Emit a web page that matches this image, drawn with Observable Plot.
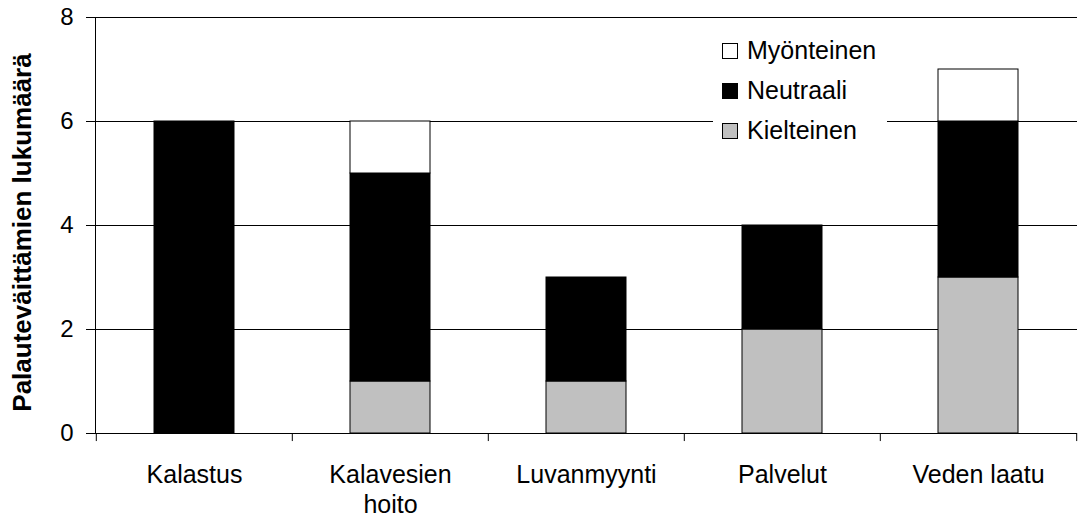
<!DOCTYPE html>
<html>
<head>
<meta charset="utf-8">
<script src="https://cdn.jsdelivr.net/npm/d3@7"></script>
<script src="https://cdn.jsdelivr.net/npm/@observablehq/plot@0.6"></script>
<style>
  body { margin: 0; background: #fff; font-family: "Liberation Sans", Arial, sans-serif; }
  #wrap { position: relative; width: 1079px; height: 515px; }
  #legend { position: absolute; left: 713px; top: 32px; width: 174px; height: 118px; background: #fff; font-size: 25px; color: #000; }
  .item { position: absolute; left: 9px; height: 24px; line-height: 24px; white-space: nowrap; }
  .sw { position: absolute; left: 0; top: 4px; width: 14px; height: 14px; border: 1px solid #000; box-sizing: content-box; }
  .lab { position: absolute; left: 25px; top: -1px; }
</style>
</head>
<body>
<div id="wrap"></div>
<script>
const categories = ["Kalastus", "Kalavesien hoito", "Luvanmyynti", "Palvelut", "Veden laatu"];
const tickLabels = ["Kalastus", "Kalavesien\nhoito", "Luvanmyynti", "Palvelut", "Veden laatu"];
const series = ["Kielteinen", "Neutraali", "Myönteinen"];
const kielteinen = [0, 1, 1, 2, 3];
const neutraali  = [6, 4, 2, 2, 3];
const myonteinen = [0, 1, 0, 0, 1];
const colors = ["#c0c0c0", "#000000", "#ffffff"];
const yTicks = [0, 2, 4, 6, 8];
const yTitle = "Palauteväittämien lukumäärä";

const values = [kielteinen, neutraali, myonteinen];
const rows = [];
series.forEach((s, si) => categories.forEach((c, ci) => {
  if (values[si][ci] > 0) rows.push({cat: c, series: s, value: values[si][ci], order: si});
}));

const W = 1079, H = 515, mL = 95, mR = 2, mT = 17, mB = 82;
const step = (W - mL - mR) / categories.length;
const labelOf = new Map(categories.map((c, i) => [c, tickLabels[i]]));

const chart = Plot.plot({
  width: W, height: H,
  marginLeft: mL, marginRight: mR, marginTop: mT, marginBottom: mB,
  style: {fontFamily: "Liberation Sans, Arial, sans-serif", fontSize: "24px", color: "#000", background: "#fff", overflow: "visible"},
  x: {domain: categories, paddingInner: 0.593, paddingOuter: 0.2965, label: null},
  y: {domain: [0, 8], ticks: yTicks, label: null},
  color: {domain: series, range: colors},
  marks: [
    Plot.ruleY(yTicks, {stroke: "#000", strokeWidth: 1}),
    Plot.ruleX(categories, {x: d => d, y1: 0, y2: -0.155, dx: -step / 2, stroke: "#000"}),
    Plot.ruleX([categories[categories.length - 1]], {x: d => d, y1: 0, y2: -0.155, dx: step / 2, stroke: "#000"}),
    Plot.frame({anchor: "left", stroke: "#000"}),
    Plot.barY(rows, {x: "cat", y: "value", fill: "series", order: series, stroke: "#000", strokeWidth: 1}),
    Plot.axisY({ticks: yTicks, tickSize: 9, tickPadding: 13, label: null, fontSize: 24}),
    Plot.axisX({tickSize: 0, tickPadding: 28, tickFormat: d => labelOf.get(d), lineHeight: 1.2, label: null, fontSize: 25}),
    Plot.text([yTitle], {frameAnchor: "left", text: d => d, textAnchor: "middle", rotate: -90, dx: -73, dy: 7, fontWeight: "bold", fontSize: 26})
  ]
});
document.getElementById("wrap").appendChild(chart);

const legend = document.createElement("div");
legend.id = "legend";
const legendOrder = ["Myönteinen", "Neutraali", "Kielteinen"];
legendOrder.forEach((s, i) => {
  const item = document.createElement("div");
  item.className = "item";
  item.style.top = (7 + i * 40) + "px";
  const sw = document.createElement("span");
  sw.className = "sw";
  sw.style.background = colors[series.indexOf(s)];
  const lab = document.createElement("span");
  lab.className = "lab";
  lab.textContent = s;
  item.appendChild(sw); item.appendChild(lab);
  legend.appendChild(item);
});
document.getElementById("wrap").appendChild(legend);
</script>
</body>
</html>
